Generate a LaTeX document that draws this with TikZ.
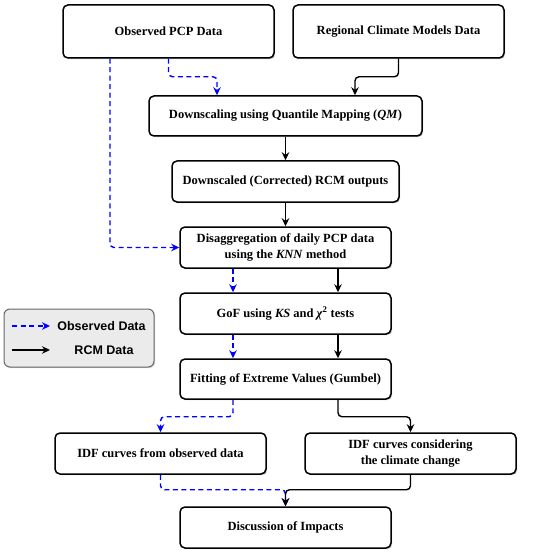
\documentclass[tikz,border=0pt]{standalone}
\usepackage{fontspec}
\setmainfont{Liberation Serif}
\setsansfont{Liberation Sans}
\usetikzlibrary{arrows.meta,shadows}

\begin{document}
\begin{tikzpicture}
		[x=1pt,y=-1pt,
		box/.style={draw, line width=1.5pt, rounded corners=5pt, fill=white,
			drop shadow={shadow xshift=1.2pt, shadow yshift=-1.2pt, fill=black!45},
			align=center, inner sep=0pt, minimum width=211pt, minimum height=41pt,
			font=\bfseries\fontsize{12.5}{15.3}\selectfont},
		obsline/.style={blue, line width=1.4pt, dash pattern=on 5pt off 3.5pt,
			rounded corners=4pt, -{Stealth[length=8pt,width=7.5pt]}},
		rcmline/.style={black, line width=1.4pt,
			rounded corners=4pt, -{Stealth[length=8pt,width=7.5pt]}}]
		\useasboundingbox (0,0) rectangle (550,556);
		% boxes
		\node[box, minimum height=53pt] (obs) at (168.5,31.5) {Observed PCP Data};
		\node[box, minimum height=53pt] (rcm) at (398.5,31.5) {Regional Climate Models Data};
		\node[box, minimum width=273pt, minimum height=40pt] (qm) at (285.5,116)
			{Downscaling using Quantile Mapping (\textit{QM})};
		\node[box, minimum width=227pt] (out) at (285.5,181.5) {Downscaled (Corrected) RCM outputs};
		\node[box] (dis) at (285.5,247.5) {Disaggregation of daily PCP data\\using the \textit{KNN} method};
		\node[box] (gof) at (285.5,313.5) {GoF using \textit{KS} and \textit{χ}\textsuperscript{2} tests};
		\node[box, minimum height=40pt] (fit) at (285.5,379) {Fitting of Extreme Values (Gumbel)};
		\node[box] (idfo) at (160.5,453.5) {IDF curves from observed data};
		\node[box] (idfc) at (410.5,453.5) {IDF curves considering\\the climate change};
		\node[box] (imp) at (285.5,527.5) {Discussion of Impacts};
		% legend
		\node[draw=black!60, line width=1pt, fill=black!8, rounded corners=6pt,
			drop shadow={shadow xshift=1.2pt, shadow yshift=-1.2pt, fill=black!30},
			minimum width=150pt, minimum height=58pt] (leg) at (79,338) {};
		\coordinate (la1) at (12,326);
		\coordinate (la2) at (50,326);
		\coordinate (lb1) at (12,350);
		\coordinate (lb2) at (50,350);
		\draw[obsline] (la1) -- (la2);
		\draw[rcmline] (lb1) -- (lb2);
		\node[font=\sffamily\bfseries\fontsize{12.5}{15}\selectfont] (legobs) at (101.5,326) {Observed Data};
		\node[font=\sffamily\bfseries\fontsize{12.5}{15}\selectfont] (legrcm) at (104,350) {RCM Data};
		% connectors
		\draw[obsline] (obs.south) -- ++(0,18) -| ([xshift=-68.5pt]qm.north);
		\draw[obsline] ([xshift=-58.5pt]obs.south) |- (dis.west);
		\draw[rcmline] (rcm.south) -- ++(0,18) -| ([xshift=69.5pt]qm.north);
		\draw[rcmline] (qm.south) -- (out.north);
		\draw[rcmline] (out.south) -- (dis.north);
		\draw[obsline] ([xshift=-52.5pt]dis.south) -- ([xshift=-52.5pt]gof.north);
		\draw[rcmline] ([xshift=52.5pt]dis.south) -- ([xshift=52.5pt]gof.north);
		\draw[obsline] ([xshift=-52.5pt]gof.south) -- ([xshift=-52.5pt]fit.north);
		\draw[rcmline] ([xshift=52.5pt]gof.south) -- ([xshift=52.5pt]fit.north);
		\draw[obsline] ([xshift=-52.5pt]fit.south) -- ++(0,17) -| (idfo.north);
		\draw[rcmline] ([xshift=52.5pt]fit.south) -- ++(0,17) -| (idfc.north);
		\draw[obsline] (idfo.south) -- ++(0,15) -| (imp.north);
		\draw[rcmline] (idfc.south) -- ++(0,15) -| (imp.north);
	\end{tikzpicture}
\end{document}
